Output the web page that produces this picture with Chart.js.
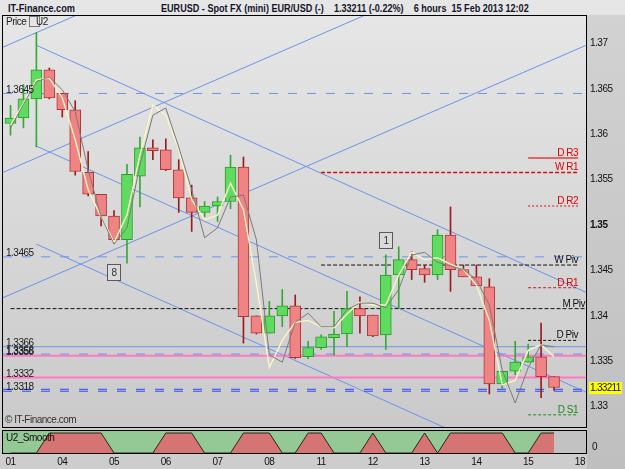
<!DOCTYPE html>
<html>
<head>
<meta charset="utf-8">
<script src="https://cdn.jsdelivr.net/npm/chart.js@4.4.1/dist/chart.umd.min.js"></script>
<style>
html, body { margin: 0; padding: 0; }
body { width: 625px; height: 469px; overflow: hidden; position: relative;
  background: linear-gradient(#e6e6e6, #cdcdcd);
  font-family: "Liberation Sans", Arial, sans-serif; }
#rstrip { position: absolute; left: 587px; top: 15px; width: 38px; height: 454px; background: linear-gradient(#d2d2d2, #bfbfbf); }
#main { position: absolute; left: 0; top: 0; }
#sub { position: absolute; left: 0; top: 428px; }
.hdr { position: absolute; top: 2px; font-size: 11px; font-weight: bold; color: #15152a; white-space: pre; transform-origin: 0 0; }
</style>
</head>
<body>
<div id="rstrip"></div>
<div class="hdr" id="h1" style="left:8px" data-w="67">IT-Finance.com</div>
<div class="hdr" id="h2" style="left:161px" data-w="368">EURUSD - Spot FX (mini) EUR/USD (-)    1.33211 (-0.22%)    6 hours  15 Feb 2013 12:02</div>
<canvas id="main" width="625" height="440"></canvas>
<canvas id="sub" width="625" height="41"></canvas>
<script>
// 6 hour candles, 1 Feb -> 15 Feb 2013 12:00
const days = ['01', '04', '05', '06', '07', '08', '11', '12', '13', '14', '15', '18']
const dayStart = [0, 4, 8, 12, 16, 20, 24, 28, 32, 36, 40, 44]

const open = [1.3612, 1.3618, 1.3639, 1.3671, 1.3645, 1.3627, 1.3558, 1.3534, 1.3510, 1.3484, 1.3554,
  1.3585, 1.3583, 1.3561, 1.3530, 1.3514, 1.3521, 1.3526, 1.3564, 1.3400, 1.3381, 1.3400, 1.3411,
  1.3355, 1.3365, 1.3376, 1.3380, 1.3408, 1.3401, 1.3379, 1.3445, 1.3462, 1.3452, 1.3445, 1.3489,
  1.3451, 1.3443, 1.3432, 1.3325, 1.3339, 1.3349, 1.3355, 1.3333]
const high = [1.3632, 1.3655, 1.3712, 1.3673, 1.3645, 1.3637, 1.3581, 1.3534, 1.3516, 1.3567, 1.3597,
  1.3594, 1.3595, 1.3572, 1.3544, 1.3526, 1.3531, 1.3577, 1.3575, 1.3400, 1.3416, 1.3429, 1.3423,
  1.3372, 1.3379, 1.3405, 1.3427, 1.3421, 1.3401, 1.3467, 1.3476, 1.3471, 1.3456, 1.3495, 1.3520,
  1.3456, 1.3456, 1.3441, 1.3339, 1.3372, 1.3369, 1.3392, 1.3333]
const low = [1.3599, 1.3607, 1.3586, 1.3639, 1.3619, 1.3555, 1.3532, 1.3499, 1.3480, 1.3458, 1.3520,
  1.3572, 1.3560, 1.3514, 1.3493, 1.3509, 1.3504, 1.3518, 1.3370, 1.3380, 1.3381, 1.3388, 1.3353,
  1.3353, 1.3363, 1.3357, 1.3366, 1.3381, 1.3377, 1.3363, 1.3408, 1.3440, 1.3437, 1.3440, 1.3427,
  1.3443, 1.3433, 1.3314, 1.3320, 1.3335, 1.3349, 1.3310, 1.3318]
const close = [1.3618, 1.3639, 1.3671, 1.3640, 1.3627, 1.3559, 1.3534, 1.3510, 1.3484, 1.3556, 1.3585,
  1.3582, 1.3561, 1.3530, 1.3514, 1.3521, 1.3526, 1.3564, 1.3399, 1.3381, 1.3400, 1.3411, 1.3354,
  1.3365, 1.3377, 1.3380, 1.3408, 1.3400, 1.3378, 1.3445, 1.3462, 1.3451, 1.3445, 1.3489, 1.3451,
  1.3443, 1.3433, 1.3325, 1.3339, 1.3349, 1.3355, 1.3333, 1.33211]

// two smoothing lines (cream = fast, grey = slow)
const maFast = [1.3610, 1.3634, 1.3660, 1.3662, 1.3640, 1.3594, 1.3539, 1.3509, 1.3481, 1.3511, 1.3577,
  1.3632, 1.3621, 1.3583, 1.3528, 1.3506, 1.3511, 1.3546, 1.3517, 1.3436, 1.3343, 1.3373, 1.3393,
  1.3395, 1.3388, 1.3387, 1.3402, 1.3415, 1.3412, 1.3412, 1.3445, 1.3470, 1.3462, 1.3464, 1.3457,
  1.3451, 1.3434, 1.3395, 1.3324, 1.3329, 1.3362, 1.3368, 1.3355]
const maSlow = [1.3607, 1.3633, 1.3658, 1.3663, 1.3649, 1.3625, 1.3561, 1.3509, 1.3479, 1.3497, 1.3566,
  1.3621, 1.3629, 1.3586, 1.3539, 1.3486, 1.3497, 1.3531, 1.3533, 1.3484, 1.3357, 1.3349, 1.3393,
  1.3403, 1.3388, 1.3388, 1.3407, 1.3414, 1.3414, 1.3409, 1.3429, 1.3467, 1.3470, 1.3459, 1.3455,
  1.3451, 1.3440, 1.3412, 1.3340, 1.3304, 1.3343, 1.3368, 1.3366]

// U2_Smooth state per candle (1 = red phase)
const u2 = [0, 0, 0, 1, 1, 1, 1, 1, 0, 0, 0, 0, 1, 1, 1, 0, 0, 0, 1, 1, 1, 0, 0, 1, 1, 0, 0, 0, 1, 0, 0,
  0, 1, 0, 1, 1, 1, 1, 1, 0, 0, 1, 1]

const priceTicks = [1.33, 1.335, 1.34, 1.345, 1.35, 1.355, 1.36, 1.365, 1.37]
const lastPrice = 1.33211

// horizontal levels with their tag on the left
const levelTags = ['1.3645', '1.3465', '1.3366', '1.3358', '1.3356', '1.3332', '1.3318']
const levelValues = [1.3645, 1.3465, 1.3366, 1.3358, 1.3356, 1.3332, 1.3318]
const levelKind = ['blueDash', 'blueDash', 'blueSolid', 'blueDash', 'pink', 'pink', 'darkDash']

// pivot levels, tagged on the right
const pivNames = ['D R3', 'W R1', 'D R2', 'W Piv', 'D R1', 'M Piv', 'D Piv', 'D S1']
const pivValues = [1.3574, 1.3558, 1.3521, 1.3456, 1.3431, 1.3408, 1.3373, 1.3291]
const pivFrom = [40, 24, 40, 24, 40, 0, 40, 40]
const pivTo = [43.85, 43.85, 43.85, 43.85, 43.85, 44.47, 43.85, 43.85]

// channel lines [x0, y0, x1, y1] in candle index / price
const channels = [
  [2, 1.3698, 44.47, 1.3426], [2, 1.3587, 44.47, 1.3316], [2, 1.3479, 44.47, 1.3207],
  [-0.58, 1.3696, 44.47, 1.3975], [-0.58, 1.3558, 44.47, 1.3837], [-0.58, 1.3420, 44.47, 1.3698]
]

// wave count markers
const markText = ['8', '1']
const markIdx = [8, 29]
const markPrice = [1.3447, 1.3482]

const FONT = '"Liberation Sans", Arial, sans-serif'
Chart.defaults.font.family = FONT
Chart.defaults.font.size = 10
const XMIN = -0.58, XMAX = 44.47

// squeeze the header text to the width it takes in the original
document.querySelectorAll('.hdr').forEach(el => {
  el.style.transform = 'scaleX(' + (Number(el.dataset.w) / el.offsetWidth) + ')'
})

const styles = {
  blueDash: { c: '#6c93ea', w: 1, d: [9, 10] },
  blueSolid: { c: '#6c93ea', w: 1, d: [] },
  pink: { c: '#ff78c6', w: 2, d: [] },
  darkDash: { c: '#3d4ff0', w: 3, d: [9, 10] },
  'D R3': { c: '#e86464', w: 2, d: [], t: '#e00000' },
  'W R1': { c: '#d01010', w: 1.5, d: [4, 2], t: '#e00000' },
  'D R2': { c: '#e07070', w: 2, d: [2, 2], t: '#e00000' },
  'W Piv': { c: '#111111', w: 1, d: [4, 2], t: '#111111' },
  'D R1': { c: '#c41c1c', w: 1, d: [3, 2], t: '#e00000' },
  'M Piv': { c: '#111111', w: 1, d: [4, 2], t: '#111111' },
  'D Piv': { c: '#111111', w: 1, d: [3, 2], t: '#111111' },
  'D S1': { c: '#1e8a1e', w: 1, d: [3, 2], t: '#1e8a1e' }
}

const seg = (x0, y0, x1, y1, s, order) => ({
  type: 'line', data: [{ x: x0, y: y0 }, { x: x1, y: y1 }], borderColor: s.c, borderWidth: s.w,
  borderDash: s.d, pointRadius: 0, fill: false, order
})

const idx = open.map((_, i) => i)
const up = i => close[i] >= open[i]

const datasets = [
  { type: 'line', data: maSlow.map((v, i) => ({ x: i, y: v })), borderColor: '#7a7a7a', borderWidth: 1, pointRadius: 0, order: 0 },
  { type: 'line', data: maFast.map((v, i) => ({ x: i, y: v })), borderColor: '#fbf5c4', borderWidth: 1.4, pointRadius: 0, order: 1 },
  { type: 'bar', data: idx.map(i => ({ x: i, y: [open[i], close[i]] })), barThickness: 11, grouped: false,
    backgroundColor: c => up(c.dataIndex) ? '#5fdc5f' : '#f08383',
    borderColor: c => up(c.dataIndex) ? '#2c9a2c' : '#b03636', borderWidth: 1, borderSkipped: false, order: 2 },
  { type: 'bar', data: idx.map(i => ({ x: i, y: [low[i], high[i]] })), barThickness: 1, grouped: false,
    backgroundColor: c => up(c.dataIndex) ? '#36a836' : '#9c1c1c', order: 3 }
]
levelValues.forEach((v, i) => datasets.push(seg(XMIN, v, XMAX, v, styles[levelKind[i]], 5)))
levelValues.forEach((v, i) => {
  if (levelKind[i] === 'darkDash') datasets.push(seg(XMIN, v, XMAX, v, { c: '#aeb6f6', w: 1, d: [9, 10] }, 4))
})
pivValues.forEach((v, i) => datasets.push(seg(pivFrom[i], v, pivTo[i], v, styles[pivNames[i]], 5)))
channels.forEach(c => datasets.push(seg(c[0], c[1], c[2], c[3], { c: '#6c93ea', w: 1, d: [] }, 6)))

const tight = '-0.5px'

const mainDecor = {
  id: 'mainDecor',
  beforeDraw(chart) {
    const { ctx, chartArea: a } = chart
    ctx.letterSpacing = tight
    const g = ctx.createLinearGradient(0, a.top, 0, a.bottom)
    g.addColorStop(0, '#e6e6e6')
    g.addColorStop(1, '#cacaca')
    ctx.save()
    ctx.fillStyle = g
    ctx.fillRect(a.left, a.top, a.right - a.left, a.bottom - a.top)
    ctx.restore()
  },
  afterDatasetsDraw(chart) {
    const { ctx, chartArea: a, scales: { x, y } } = chart
    ctx.save()
    ctx.font = '10px ' + FONT
    ctx.textBaseline = 'alphabetic'
    ctx.textAlign = 'left'
    ctx.fillStyle = '#1a1a1a'
    levelTags.forEach((t, i) => ctx.fillText(t, a.left + 3, y.getPixelForValue(levelValues[i]) - 0.5))
    ctx.textAlign = 'right'
    pivNames.forEach((n, i) => {
      ctx.fillStyle = styles[n].t
      ctx.fillText(n, Math.min(x.getPixelForValue(pivTo[i]), a.right - 1), y.getPixelForValue(pivValues[i]) - 2)
    })
    ctx.textAlign = 'center'
    ctx.textBaseline = 'middle'
    markText.forEach((t, i) => {
      const px = Math.round(x.getPixelForValue(markIdx[i])), py = Math.round(y.getPixelForValue(markPrice[i]))
      ctx.fillStyle = '#dadada'
      ctx.fillRect(px - 6.5, py - 8.5, 13, 16)
      ctx.strokeStyle = '#5a5a5a'
      ctx.lineWidth = 1
      ctx.strokeRect(px - 6.5, py - 8.5, 13, 16)
      ctx.fillStyle = '#333'
      ctx.fillText(t, px, py)
    })
    ctx.textAlign = 'left'
    ctx.fillStyle = '#222'
    ctx.fillText('Price', a.left + 3, a.top + 6)
    ctx.strokeStyle = '#777'
    ctx.strokeRect(a.left + 26.5, a.top + 0.5, 10, 10)
    ctx.fillText('U2', a.left + 33, a.top + 6)
    ctx.font = '10px ' + FONT
    ctx.fillStyle = '#333'
    ctx.fillText('\u00a9 IT-Finance.com', a.left + 2, a.bottom - 7)
    ctx.strokeStyle = '#000'
    ctx.strokeRect(a.left - 0.5, a.top - 0.5, a.right - a.left + 1, a.bottom - a.top + 1)
    ctx.restore()
  },
  afterDraw(chart) {
    const { ctx, scales: { y } } = chart
    const py = Math.round(y.getPixelForValue(lastPrice))
    ctx.save()
    ctx.fillStyle = '#ffff00'
    ctx.fillRect(589, py - 6, 33, 12)
    ctx.fillStyle = '#111'
    ctx.font = '10px ' + FONT
    ctx.letterSpacing = '-0.7px'
    ctx.textBaseline = 'middle'
    ctx.textAlign = 'left'
    ctx.fillText(lastPrice.toFixed(5), 590, py)
    ctx.restore()
  }
}

new Chart(document.getElementById('main'), {
  type: 'line',
  data: { datasets },
  options: {
    responsive: false, animation: false,
    layout: { padding: { left: 3, top: 16, right: 0, bottom: 13 } },
    plugins: { legend: { display: false }, tooltip: { enabled: false } },
    scales: {
      x: { type: 'linear', min: XMIN, max: XMAX, display: false, offset: false, grid: { offset: false } },
      y: {
        type: 'linear', position: 'right', min: 1.32776, max: 1.37303, beginAtZero: false,
        afterBuildTicks: s => { s.ticks = priceTicks.map(v => ({ value: v })) },
        afterFit: s => { s.width = 39 },
        grid: { display: false, drawTicks: false }, border: { display: false },
        ticks: {
          autoSkip: false, padding: 4, color: '#111',
          font: c => ({ family: FONT, size: 10, weight: (c.tick && Math.abs(c.tick.value - 1.35) < 1e-9) ? 'bold' : 'normal' }),
          callback: v => v.toFixed(3).replace(/0+$/, '')
        }
      }
    }
  },
  plugins: [mainDecor]
})

const subDecor = {
  id: 'subDecor',
  beforeDraw(chart) {
    chart.ctx.letterSpacing = tight
  },
  beforeDatasetsDraw(chart) {
    const { ctx, chartArea: a, scales: { x } } = chart
    ctx.save()
    ctx.fillStyle = '#c2c2c2'
    ctx.fillRect(a.left, a.top, a.right - a.left, a.bottom - a.top)
    const xe = x.getPixelForValue(u2.length - 1)
    ctx.fillStyle = '#94c894'
    ctx.fillRect(a.left, a.top, xe - a.left, a.bottom - a.top)
    ctx.restore()
  },
  afterDatasetsDraw(chart) {
    const { ctx, chartArea: a } = chart
    ctx.save()
    ctx.strokeStyle = '#000'
    ctx.lineWidth = 1
    ctx.strokeRect(a.left - 0.5, a.top - 0.5, a.right - a.left + 1, a.bottom - a.top + 1)
    ctx.font = '10px ' + FONT
    ctx.fillStyle = '#111'
    ctx.textBaseline = 'middle'
    ctx.textAlign = 'left'
    ctx.fillText('U2_Smooth', a.left + 3, a.top + 7)
    ctx.fillText('0', a.right + 6, a.top + 16)
    ctx.restore()
  }
}

new Chart(document.getElementById('sub'), {
  type: 'line',
  data: { datasets: [{ data: u2.map((v, i) => ({ x: i, y: v })), fill: 'origin', backgroundColor: '#d67474', borderColor: '#262626', borderWidth: 1, pointRadius: 0 }] },
  options: {
    responsive: false, animation: false,
    layout: { padding: { left: 3, top: 3, right: 0, bottom: 0 } },
    plugins: { legend: { display: false }, tooltip: { enabled: false } },
    scales: {
      x: {
        type: 'linear', min: XMIN, max: XMAX,
        afterBuildTicks: s => { s.ticks = dayStart.map(v => ({ value: v })) },
        afterFit: s => { s.height = 16 },
        grid: { display: false, drawTicks: false }, border: { display: false },
        ticks: { autoSkip: false, maxRotation: 0, padding: 3, color: '#111', font: { size: 10 }, callback: (v, i) => days[i] }
      },
      y: {
        position: 'right', min: 0, max: 1.1,
        afterFit: s => { s.width = 39 },
        ticks: { display: false }, grid: { display: false, drawTicks: false }, border: { display: false }
      }
    }
  },
  plugins: [subDecor]
})
</script>
</body>
</html>
